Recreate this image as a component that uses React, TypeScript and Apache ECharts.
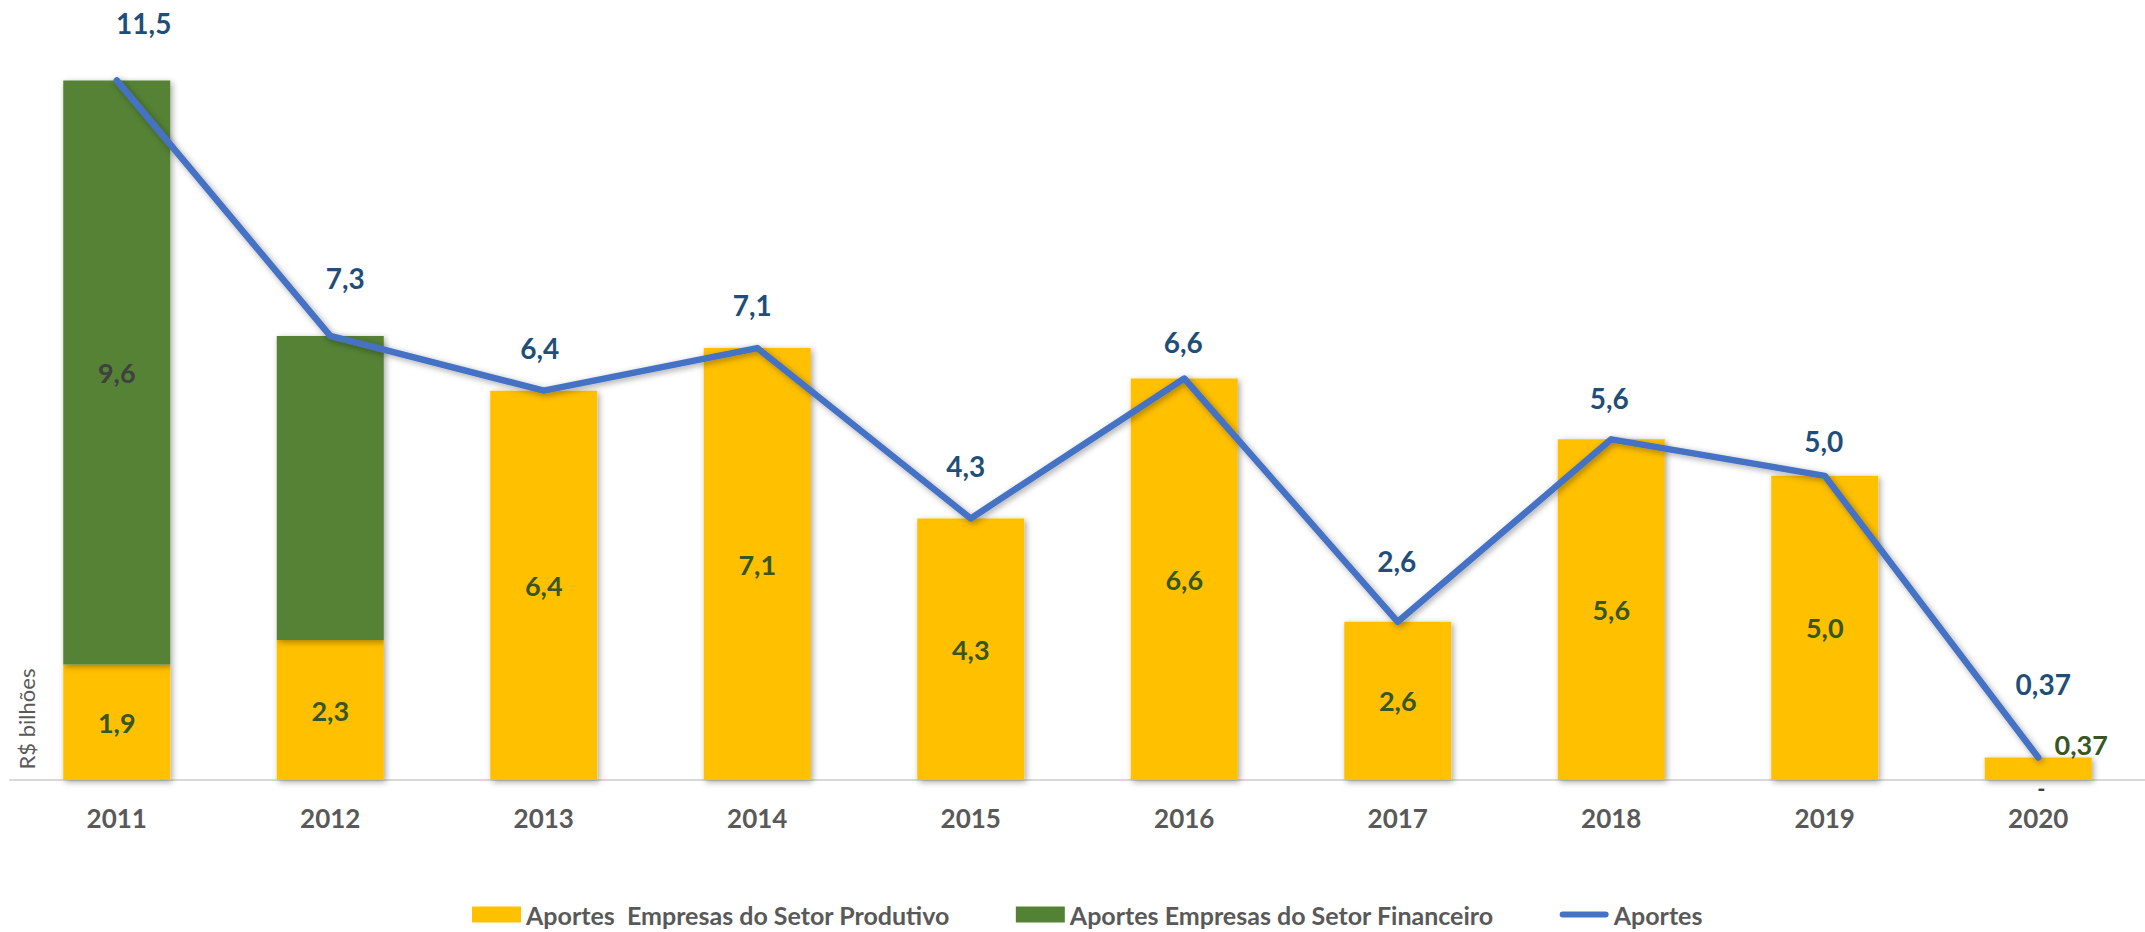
import React, { useEffect, useRef } from "react";
import * as echarts from "echarts";

const years = ["2011", "2012", "2013", "2014", "2015", "2016", "2017", "2018", "2019", "2020"];
const produtivo = [1.9, 2.3, 6.4, 7.1, 4.3, 6.6, 2.6, 5.6, 5.0, 0.37];
const financeiro: (number | null)[] = [9.6, 5.0, null, null, null, null, null, null, null, 0];
const aportes = [11.5, 7.3, 6.4, 7.1, 4.3, 6.6, 2.6, 5.6, 5.0, 0.37];

const seriesNames = [
  "Aportes  Empresas do Setor Produtivo",
  "Aportes Empresas do Setor Financeiro",
  "Aportes",
];

// label placement (styling only): offset of line labels from their points
const lineLabelOffsets: [number, number][] = [
  [27, -57], [15, -58], [-4, -43], [-5, -43], [-5, -52],
  [-1, -37], [-1, -61], [-2, -41], [-1, -35], [5, -73],
];

const FONT = "Lato, 'Open Sans', sans-serif";
const LINE_ICON =
  "path://M3.5,0 L53.5,0 A3.5,3.5 0 0 1 53.5,7 L3.5,7 A3.5,3.5 0 0 1 3.5,0 Z";

const fmt = (v: number) => {
  const s = v < 1 ? v.toFixed(2) : v.toFixed(1);
  return s.replace(".", ",");
};

export default function App() {
  const ref = useRef<HTMLDivElement>(null);
  useEffect(() => {
    if (!ref.current) return;
    const chart = echarts.init(ref.current, undefined, { renderer: "svg" });
    const shadow = {
      shadowBlur: 6,
      shadowColor: "rgba(0,0,0,0.35)",
      shadowOffsetX: 2,
      shadowOffsetY: 2,
    };
    const last = years.length - 1;
    chart.setOption({
      animation: false,
      backgroundColor: "#ffffff",
      textStyle: { fontFamily: FONT },
      grid: { left: 10, right: -6, top: 50, bottom: 152 },
      legend: {
        left: 467,
        top: 897,
        itemWidth: 49,
        itemHeight: 16,
        itemGap: 66,
        data: [
          { name: seriesNames[0], icon: "rect" },
          { name: seriesNames[1], icon: "rect" },
          { name: seriesNames[2], icon: LINE_ICON },
        ],
        textStyle: { fontSize: 25, fontWeight: "bold", color: "#595959", fontFamily: FONT },
      },
      xAxis: {
        type: "category",
        data: years,
        axisTick: { show: false },
        axisLine: { lineStyle: { color: "#D9D9D9", width: 2 } },
        axisLabel: {
          margin: 25,
          fontSize: 26,
          fontWeight: "bold",
          color: "#595959",
          fontFamily: FONT,
        },
      },
      yAxis: {
        type: "value",
        min: 0,
        max: 12,
        show: false,
        splitLine: { show: false },
      },
      graphic: [
        {
          type: "text",
          x: 26,
          y: 719,
          rotation: Math.PI / 2,
          style: {
            text: "R$ bilhões",
            fontSize: 22,
            fontFamily: FONT,
            fill: "#595959",
            align: "center",
            verticalAlign: "middle",
          },
        },
      ],
      series: [
        {
          name: seriesNames[0],
          type: "bar",
          stack: "total",
          barWidth: 107,
          itemStyle: { color: "#FFC000", ...shadow },
          label: {
            show: true,
            position: "inside",
            fontSize: 27,
            fontWeight: "bold",
            color: "#375623",
            fontFamily: FONT,
            formatter: (p: any) => fmt(p.value),
          },
          data: produtivo.map((v, i) =>
            i === last ? { value: v, label: { offset: [43, -24] } } : v
          ),
        },
        {
          name: seriesNames[1],
          type: "bar",
          stack: "total",
          barWidth: 107,
          itemStyle: { color: "#548235", ...shadow },
          label: {
            show: true,
            position: "inside",
            fontSize: 27,
            fontWeight: "bold",
            color: "#404040",
            fontFamily: FONT,
            formatter: (p: any) => (p.value === 0 ? "-" : fmt(p.value)),
          },
          data: financeiro.map((v, i) => {
            if (i === 1) return { value: v, label: { show: false } };
            if (i === last)
              return { value: v, label: { offset: [3, 31], fontSize: 22, lineHeight: 18 } };
            return v;
          }),
        },
        {
          name: seriesNames[2],
          type: "line",
          z: 5,
          symbol: "circle",
          symbolSize: 1,
          showSymbol: true,
          itemStyle: { color: "#4472C4" },
          lineStyle: { color: "#4472C4", width: 6.5, cap: "round", join: "round", ...shadow },
          label: {
            show: true,
            position: "inside",
            fontSize: 28,
            fontWeight: "bold",
            color: "#1F4E79",
            fontFamily: FONT,
            formatter: (p: any) => fmt(p.value),
          },
          data: aportes.map((v, i) => ({ value: v, label: { offset: lineLabelOffsets[i] } })),
        },
      ],
    });
    return () => chart.dispose();
  }, []);
  return (
    <div
      ref={ref}
      style={{ position: "fixed", left: 0, top: 0, width: 2145, height: 932, background: "#fff" }}
    />
  );
}
